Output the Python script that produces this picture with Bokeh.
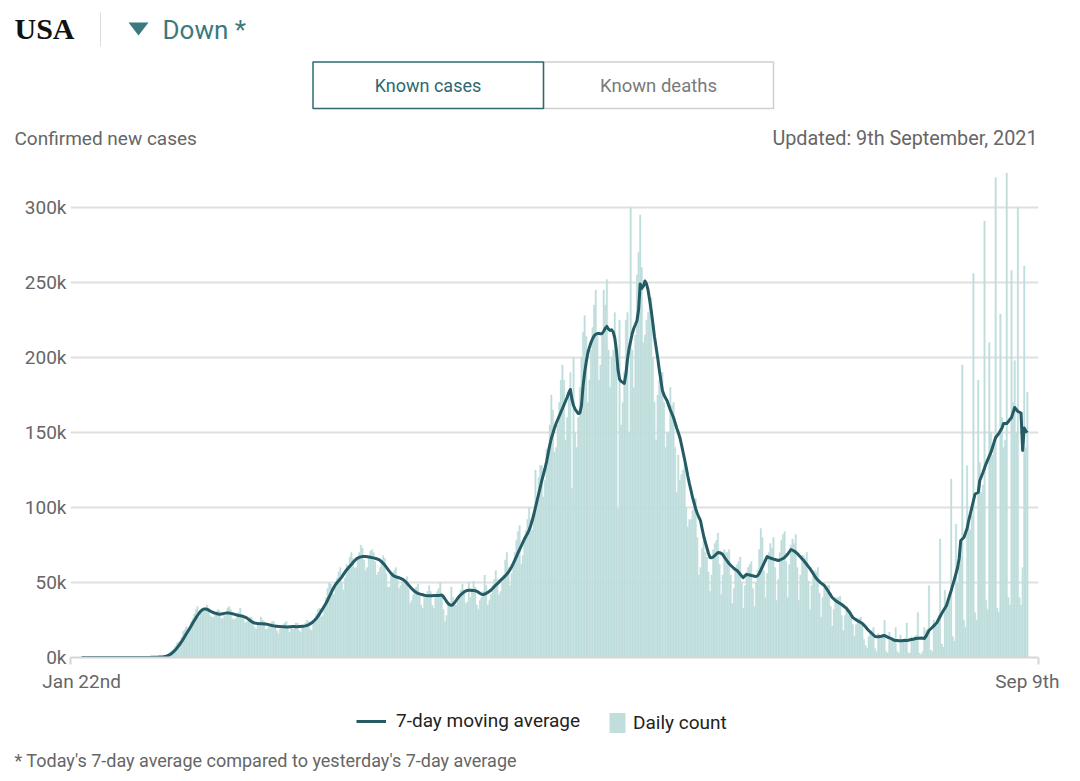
from bokeh.plotting import figure
from bokeh.layouts import column
from bokeh.models import (ColumnDataSource, FixedTicker, LinearAxis, Legend, LegendItem, Range1d)
from bokeh.core.properties import value
from bokeh.embed import file_html
from bokeh.resources import INLINE

# ---------------- data (thousands of cases), one value per day from Jan 22 2020 ----------------
daily_k = [
    0, 0, 0, 0, 0, 0, 0,
    0, 0, 0, 0, 0, 0, 0,
    0, 0, 0, 0, 0, 0, 0,
    0, 0, 0, 0, 0, 0, 0,
    0, 0, 0, 0, 0, 0, 0,
    0, 0, 0, 0, 0, 0, 0,
    0, 0, 0.1, 0.1, 0.1, 0.2, 0.3,
    0.4, 0.4, 0.6, 0.9, 1.2, 1.8, 2.5,
    3.3, 4.5, 5.6, 7.5, 9.5, 10.5, 10.8,
    13.5, 17.5, 18.5, 20.5, 19.5, 19.0, 24.0,
    26, 29, 32, 34, 27, 29, 30,
    31, 33, 35, 33, 28, 27, 27,
    29, 31, 32, 31, 26, 26, 28,
    28, 33, 34, 32, 26, 25, 26,
    28, 30, 33, 29, 26, 23, 24,
    24, 27, 27, 25, 20, 19, 22,
    21, 27, 25, 24, 19, 19, 21,
    22, 24, 24, 22, 18, 16, 19,
    19, 22, 23, 24, 20, 17, 20,
    19, 21, 23, 23, 18, 17, 20,
    21, 23, 25, 24, 19, 18, 23,
    26, 29, 32, 33, 27, 28, 34,
    40, 46, 50, 49, 43, 42, 47,
    53, 57, 60, 50, 45, 53, 62,
    61, 67, 70, 66, 60, 60, 65,
    70, 75, 73, 65, 58, 60, 66,
    71, 72, 70, 64, 55, 57, 60,
    64, 68, 66, 56, 47, 47, 55,
    55, 58, 60, 53, 46, 48, 52,
    52, 50, 54, 46, 36, 38, 42,
    46, 47, 49, 43, 35, 33, 40,
    42, 44, 48, 44, 35, 33, 41,
    44, 46, 50, 42, 32, 24, 28,
    35, 36, 47, 40, 35, 35, 38,
    40, 45, 49, 45, 36, 37, 50,
    40, 46, 51, 47, 35, 32, 38,
    40, 44, 55, 48, 35, 38, 42,
    48, 52, 58, 52, 42, 44, 50,
    55, 65, 70, 60, 48, 56, 63,
    70, 78, 84, 88, 62, 68, 80,
    85, 92, 100, 92, 85, 94, 125,
    105, 120, 128, 128, 107, 118, 139,
    140, 155, 175, 165, 137, 140, 155,
    170, 185, 195, 185, 145, 160, 175,
    190, 113, 200, 150, 140, 160, 180,
    200, 217, 228, 214, 170, 185, 205,
    220, 235, 245, 215, 185, 195, 215,
    245, 235, 252, 205, 180, 200, 205,
    230, 195, 99, 225, 155, 170, 190,
    225, 230, 150, 300, 205, 180, 215,
    255, 270, 295, 260, 210, 215, 225,
    230, 235, 240, 200, 170, 145, 175,
    185, 190, 190, 170, 140, 150, 150,
    180, 168, 170, 140, 110, 135, 118,
    122, 125, 130, 100, 87, 92, 92,
    98, 105, 106, 80, 55, 60, 73,
    78, 70, 67, 57, 44, 55, 72,
    76, 78, 83, 62, 42, 55, 72,
    70, 70, 72, 55, 36, 46, 58,
    62, 64, 67, 50, 33, 48, 57,
    60, 62, 64, 46, 34, 50, 58,
    72, 86, 80, 58, 40, 56, 70,
    76, 73, 80, 60, 38, 52, 70,
    78, 82, 84, 64, 40, 62, 75,
    79, 76, 82, 60, 38, 55, 68,
    68, 66, 70, 51, 32, 48, 58,
    58, 57, 60, 43, 27, 40, 49,
    47, 48, 48, 34, 21, 32, 40,
    40, 40, 41, 28, 18, 28, 34,
    33, 32, 30, 22, 14, 22, 26,
    26, 27, 22, 12, 8, 6, 14,
    17, 18, 20, 6, 4, 16, 15,
    14, 15, 25, 4, 3, 17, 11,
    12, 13, 20, 4, 3, 15, 12,
    12, 13, 23, 3, 3, 14, 13,
    14, 15, 30, 3, 2, 4, 20,
    18, 19, 48, 5, 4, 25, 22,
    25, 28, 79, 9, 7, 45, 33,
    38, 42, 119, 14, 11, 89, 50,
    62, 68, 195, 25, 20, 128, 95,
    85, 95, 256, 30, 25, 185, 130,
    110, 115, 291, 38, 32, 210, 150,
    135, 145, 320, 33, 30, 229, 160,
    140, 145, 323, 40, 35, 258, 170,
    198, 150, 300, 40, 35, 60, 261,
    140, 177,
]

avg_k = [
    0, 0, 0, 0, 0, 0, 0,
    0, 0, 0, 0, 0, 0, 0,
    0, 0, 0, 0, 0, 0, 0,
    0, 0, 0, 0, 0, 0, 0,
    0, 0, 0, 0, 0, 0, 0,
    0, 0, 0, 0, 0, 0, 0,
    0, 0, 0.1, 0.1, 0.1, 0.1, 0.2,
    0.3, 0.3, 0.4, 0.6, 0.8, 1.1, 1.6,
    2.2, 3.0, 3.9, 5.0, 6.2, 7.6, 9.0,
    10.6, 12.2, 14.0, 15.8, 17.5, 19.2, 21.0,
    22.8, 24.6, 26.4, 28.0, 29.5, 30.8, 31.8,
    32.3, 32.4, 32.2, 31.6, 31.0, 30.4, 30.0,
    29.6, 29.3, 29.0, 28.9, 29.0, 29.2, 29.4,
    29.6, 29.7, 29.6, 29.4, 29.2, 28.9, 28.6,
    28.3, 28.0, 27.8, 27.6, 27.3, 26.9, 26.4,
    25.6, 24.8, 24.0, 23.4, 23.0, 22.8, 22.6,
    22.5, 22.5, 22.5, 22.4, 22.3, 22.1, 21.9,
    21.6, 21.3, 21.1, 20.9, 20.8, 20.7, 20.6,
    20.5, 20.5, 20.5, 20.4, 20.4, 20.5, 20.5,
    20.6, 20.6, 20.5, 20.5, 20.6, 20.7, 20.8,
    20.9, 21.1, 21.4, 21.8, 22.4, 23.1, 24.0,
    25.0, 26.2, 27.6, 29.2, 30.9, 32.6, 34.4,
    36.2, 38.2, 40.4, 42.6, 44.8, 46.8, 48.6,
    50.0, 51.2, 52.4, 53.8, 55.4, 57.0, 58.4,
    59.6, 60.8, 62.0, 63.3, 64.5, 65.5, 66.3,
    66.8, 67.1, 67.3, 67.4, 67.4, 67.2, 67.0,
    66.8, 66.6, 66.4, 66.1, 65.8, 65.4, 64.8,
    63.9, 62.8, 61.6, 60.2, 58.8, 57.4, 56.1,
    55.0, 54.2, 53.8, 53.5, 53.2, 52.8, 52.3,
    51.6, 50.7, 49.6, 48.4, 47.2, 46.0, 44.9,
    44.0, 43.3, 42.8, 42.4, 42.1, 41.8, 41.5,
    41.3, 41.2, 41.1, 41.1, 41.2, 41.3, 41.4,
    41.4, 41.3, 41.5, 41.6, 40.6, 39.0, 37.4,
    36.0, 35.1, 34.8, 35.3, 36.5, 38.0, 39.5,
    40.8, 41.9, 42.8, 43.6, 44.3, 44.7, 44.8,
    44.8, 44.7, 44.6, 44.5, 44.2, 43.5, 42.8,
    42.2, 42.0, 42.3, 42.8, 43.4, 44.1, 45.0,
    46.0, 47.2, 48.3, 49.3, 50.3, 51.4, 52.4,
    53.4, 54.5, 55.7, 57.0, 58.6, 60.5, 62.6,
    64.9, 67.3, 69.7, 72.0, 74.3, 76.6, 78.8,
    80.8, 82.6, 85.0, 88.0, 91.5, 95.5, 100.0,
    104.5, 109.0, 113.5, 118.0, 122.0, 126.0, 130.5,
    136.0, 141.5, 146.0, 149.5, 153.0, 156.0, 158.5,
    161.0, 163.5, 166.0, 168.5, 171.0, 173.5, 176.5,
    178.7, 172.0, 168.0, 165.5, 164.0, 162.7, 163.0,
    168.0, 181.0, 190.0, 197.0, 203.0, 206.7, 210.0,
    212.5, 214.5, 215.5, 216.0, 216.0, 215.8, 216.0,
    217.5, 219.5, 220.7, 219.0, 218.0, 218.5, 217.0,
    213.0, 205.0, 192.0, 185.5, 184.0, 183.5, 182.7,
    189.0, 199.0, 206.0, 211.0, 216.0, 219.5, 222.0,
    224.7, 232.0, 249.0, 246.0, 247.5, 251.0, 249.0,
    244.7, 238.0, 231.0, 222.7, 214.0, 207.0, 200.0,
    192.0, 185.0, 178.0, 175.0, 173.0, 171.0, 168.0,
    165.0, 162.5, 160.0, 156.5, 153.0, 150.0, 146.7,
    142.0, 137.0, 132.0, 126.7, 121.0, 116.0, 111.5,
    106.7, 103.0, 99.0, 96.0, 93.5, 91.3, 86.0,
    81.0, 77.0, 73.3, 69.5, 66.7, 66.5, 67.0,
    68.0, 69.0, 70.0, 69.8, 69.5, 68.7, 67.0,
    65.5, 64.0, 62.7, 61.5, 60.5, 59.5, 58.7,
    58.0, 56.8, 55.5, 54.3, 53.3, 54.5, 55.3,
    55.2, 55.0, 54.7, 54.5, 54.2, 54.0, 54.5,
    56.0, 58.3, 60.5, 62.7, 65.0, 67.3, 66.8,
    66.3, 66.0, 65.6, 65.3, 65.0, 64.7, 65.0,
    65.5, 66.0, 66.7, 67.8, 69.0, 70.5, 72.0,
    71.5, 71.0, 70.2, 69.3, 68.1, 67.0, 65.8,
    64.7, 63.3, 62.0, 60.6, 59.3, 57.6, 56.0,
    54.3, 52.7, 51.6, 50.5, 49.6, 48.8, 48.0,
    46.5, 45.0, 43.3, 41.7, 40.0, 39.0, 38.0,
    37.3, 36.6, 36.0, 35.3, 34.5, 33.6, 32.7,
    31.3, 30.0, 28.3, 26.7, 25.9, 25.2, 24.5,
    23.9, 23.3, 22.7, 21.6, 20.5, 19.2, 18.0,
    17.0, 16.0, 15.0, 14.0, 13.9, 13.8, 14.0,
    14.2, 14.5, 14.7, 14.1, 13.5, 13.1, 12.7,
    12.1, 11.5, 11.3, 11.3, 11.2, 11.2, 11.2,
    11.3, 11.3, 11.3, 11.5, 11.8, 12.0, 12.2,
    12.5, 12.7, 12.8, 12.9, 13.0, 12.9, 12.7,
    14.0, 16.0, 18.0, 19.0, 20.0, 21.1, 22.2,
    23.3, 25.3, 27.3, 29.3, 31.1, 32.9, 34.7,
    38.0, 41.4, 44.7, 48.4, 52.0, 56.0, 60.0,
    66.0, 78.0, 79.0, 80.0, 83.0, 86.0, 91.3,
    95.6, 100.0, 104.5, 109.0, 109.5, 110.0, 118.0,
    120.7, 123.3, 126.3, 129.3, 131.8, 134.2, 136.7,
    140.0, 143.4, 146.7, 148.0, 149.3, 151.2, 153.0,
    156.0, 156.0, 156.0, 157.3, 158.7, 160.0, 163.3,
    166.7, 165.3, 164.0, 163.5, 163.0, 138.0, 153.0,
    151.0, 150.0,
]

y_ticks = [0, 50, 100, 150, 200, 250, 300]
y_tick_labels = ["0k", "50k", "100k", "150k", "200k", "250k", "300k"]
x_tick_days = [0, 596]
x_tick_labels = ["Jan 22nd", "Sep 9th"]

days = list(range(len(daily_k)))
src = ColumnDataSource(dict(day=days, daily=daily_k, avg=avg_k))

FONT = "Roboto"
TEAL = "#2c6a70"
TEAL_LIGHT = "#3a7a7e"
BAR = "#bfdedc"
LINE = "#245b65"
GREY = "#666666"
W = 1064


def canvas(height, top):
    """A plain figure whose data units are page pixels (y grows downward)."""
    f = figure(width=W, height=height, output_backend="svg", toolbar_location=None,
               x_range=Range1d(0, W), y_range=Range1d(top + height, top),
               x_axis_location=None, y_axis_location=None,
               min_border=0, min_border_left=0, min_border_right=0,
               min_border_top=0, min_border_bottom=0, frame_align=False)
    f.outline_line_color = None
    f.grid.visible = False
    f.background_fill_color = "white"
    f.border_fill_color = "white"
    return f


def txt(f, x, y, s, size, color, align="left", font=FONT, style="normal"):
    f.text(x=[x], y=[y], text=[s], text_font=value(font), text_font_size=value(size),
           text_font_style=style, text_color=color, text_align=align,
           text_baseline="middle")


# ---------------- header ----------------
head = canvas(165, 0)
txt(head, 14, 28, "USA", "30px", "#111111", font="Liberation Serif", style="bold")
head.segment(x0=[100], y0=[12], x1=[100], y1=[46], line_color="#dddddd", line_width=1)
head.patch(x=[128, 148, 138], y=[22, 22, 35], fill_color=TEAL_LIGHT, line_color=None)
txt(head, 162, 29, "Down *", "26px", TEAL_LIGHT)
head.quad(left=[543], right=[773], top=[61.5], bottom=[108], fill_color="white",
          line_color="#cfcfcf", line_width=1.5)
head.quad(left=[312.5], right=[543], top=[61.5], bottom=[108], fill_alpha=0,
          line_color=TEAL, line_width=1.5)
txt(head, 427.5, 85, "Known cases", "18px", TEAL, align="center")
txt(head, 658, 85, "Known deaths", "18.5px", "#7a7a7a", align="center")
txt(head, 14, 138, "Confirmed new cases", "19px", GREY)
txt(head, 1037, 138, "Updated: 9th September, 2021", "19.8px", GREY, align="right")

# ---------------- main chart ----------------
X0, X1 = -7, 603
Y0, Y1 = 0, 328
p = figure(width=W, height=535, output_backend="svg", toolbar_location=None,
           x_range=Range1d(X0, X1), y_range=Range1d(Y0, Y1),
           x_axis_location=None, y_axis_location="left",
           min_border_left=70, min_border_right=26,
           min_border_top=0, min_border_bottom=43, frame_align=False)
p.outline_line_color = None
p.background_fill_color = "white"
p.border_fill_color = "white"

p.yaxis.ticker = FixedTicker(ticks=y_ticks)
p.yaxis.major_label_overrides = dict(zip(y_ticks, y_tick_labels))
p.yaxis.axis_line_color = None
p.yaxis.major_tick_line_color = None
p.yaxis.minor_tick_line_color = None
p.yaxis.major_tick_out = 0
p.yaxis.major_tick_in = 0
p.yaxis.minor_tick_out = 0
p.yaxis.major_label_standoff = 4
p.yaxis.major_label_text_font = FONT
p.yaxis.major_label_text_font_size = "19px"
p.yaxis.major_label_text_color = GREY

p.ygrid.ticker = FixedTicker(ticks=y_ticks)
p.ygrid.grid_line_color = "#e0e0e0"
p.ygrid.grid_line_width = 2
p.xgrid.visible = False

tick_axis = LinearAxis(ticker=FixedTicker(ticks=[X0 + 0.05, X1 - 0.05]),
                       major_label_overrides={X0 + 0.05: "", X1 - 0.05: ""},
                       axis_line_color="#d6d6d6", axis_line_width=2,
                       major_tick_line_color="#d6d6d6", major_tick_line_width=2,
                       major_tick_out=7, major_tick_in=0,
                       minor_tick_line_color=None, minor_tick_out=0,
                       major_label_text_font_size="0px", major_label_standoff=0)
label_axis = LinearAxis(ticker=FixedTicker(ticks=x_tick_days),
                        major_label_overrides=dict(zip(x_tick_days, x_tick_labels)),
                        axis_line_color=None, major_tick_line_color=None,
                        major_tick_out=0, major_tick_in=0,
                        minor_tick_line_color=None, minor_tick_out=0,
                        major_label_standoff=5,
                        major_label_text_font=FONT, major_label_text_font_size="19px",
                        major_label_text_color=GREY)
p.add_layout(tick_axis, "below")
p.add_layout(label_axis, "below")

p.vbar(x="day", top="daily", width=1.0, source=src,
       fill_color=BAR, line_color=BAR, line_width=0.3)
p.line(x="day", y="avg", source=src, line_color=LINE, line_width=3, line_join="round")

# ---------------- footer: legend + footnote ----------------
FOOT_TOP, FOOT_H = 700, 75
foot = canvas(FOOT_H, FOOT_TOP)
# legend swatch carriers, kept outside the visible canvas
swatch = ColumnDataSource(dict(x=[-500, -490], y=[-500, -500], top=[-500, -500]))
leg_line = foot.line(x="x", y="y", source=swatch, line_color=LINE, line_width=3)
leg_bar = foot.vbar(x="x", top="top", bottom=-510, width=1, source=swatch,
                    fill_color=BAR, line_color=None)
leg_common = dict(orientation="horizontal", padding=0, margin=0, spacing=0,
                  border_line_color=None, background_fill_alpha=0,
                  label_text_font=FONT, label_text_font_size="19px",
                  label_text_color="#222222", label_height=20)
foot_bottom = FOOT_TOP + FOOT_H
foot.add_layout(Legend(items=[LegendItem(label="7-day moving average", renderers=[leg_line])],
                       location=(356, foot_bottom - 732), glyph_width=30, glyph_height=20,
                       label_standoff=10, **leg_common))
foot.add_layout(Legend(items=[LegendItem(label="Daily count", renderers=[leg_bar])],
                       location=(607, foot_bottom - 734.5), glyph_width=20, glyph_height=25,
                       label_standoff=6, **leg_common))
txt(foot, 14, 760, "* Today's 7-day average compared to yesterday's 7-day average",
    "18px", GREY)

layout = column(head, p, foot, spacing=0)
open("out.html", "w").write(file_html(layout, INLINE))
